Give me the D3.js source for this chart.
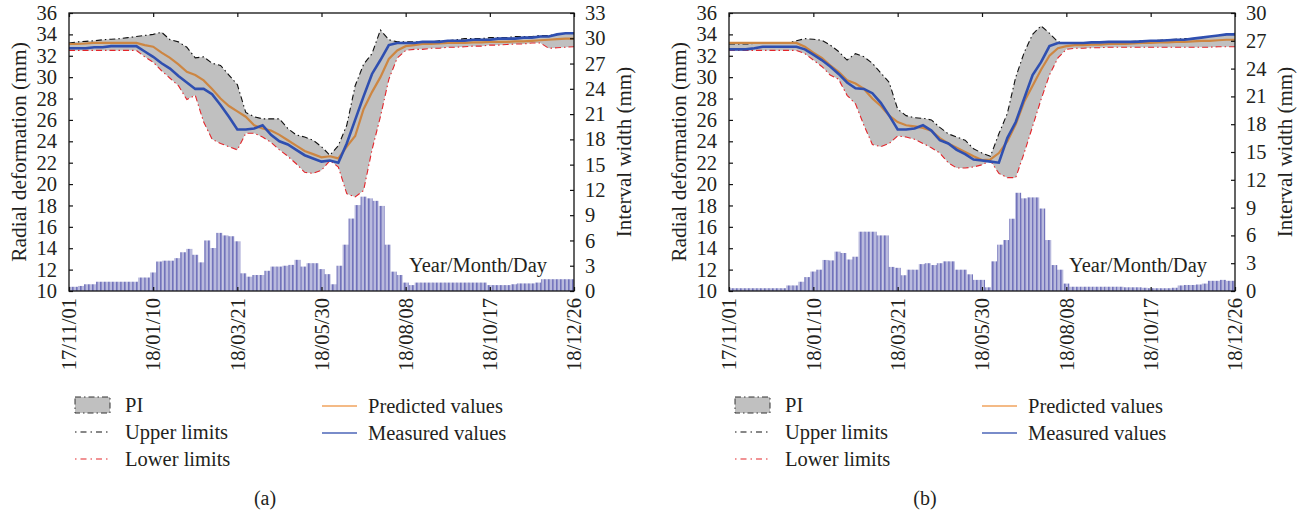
<!DOCTYPE html>
<html>
<head>
<meta charset="utf-8">
<script src="https://cdn.jsdelivr.net/npm/d3@7"></script>
<style>
  body { margin: 0; background: #fff; }
  svg text { font-family: "Liberation Serif", "Times New Roman", serif; fill: #231f20; }
</style>
</head>
<body>
<svg id="chart" width="1300" height="515"></svg>
<script>
// ---- date axis ----
const tickLabels = ["17/11/01", "18/01/10", "18/03/21", "18/05/30", "18/08/08", "18/10/17", "18/12/26"];
const lineStep = 7;   // days between line samples
const barStep = 5;    // days between interval-width bars

// ---- panel (a) ----
const measuredA = [32.7,32.7,32.7,32.8,32.8,32.9,32.9,32.9,32.9,32.4, 31.9,31.3,30.8,30.1,29.5,28.9,28.9,28.4,27.4,26.3,
  25.1,25.1,25.2,25.5,24.6,24.0,23.7,23.2,22.7,22.4, 22.1,22.2,22.0,23.8,26.0,28.2,30.3,31.6,33.0,33.2,
  33.2,33.2,33.3,33.3,33.3,33.4,33.4,33.4,33.5,33.5, 33.5,33.6,33.6,33.6,33.7,33.7,33.8,33.8,34.0,34.1,34.1];
const predictedA = [33.1,33.1,33.15,33.2,33.2,33.2,33.2,33.2,33.2,33.0, 32.85,32.3,31.8,31.2,30.5,30.2,29.7,28.9,28.0,27.3,
  26.8,26.3,25.5,25.2,25.0,24.6,24.1,23.6,23.1,22.8, 22.5,22.6,22.4,23.5,24.5,27.0,28.6,30.0,31.7,32.5,
  32.9,33.0,33.1,33.1,33.15,33.2,33.2,33.2,33.25,33.25, 33.3,33.3,33.3,33.35,33.35,33.4,33.45,33.5,33.55,33.6,33.6];
const upperA = [33.2,33.3,33.35,33.4,33.5,33.55,33.6,33.7,33.8,33.9, 34.0,34.2,33.5,33.3,32.8,31.8,31.9,31.3,31.1,30.2,
  29.3,26.7,26.3,26.1,26.1,26.1,25.2,24.6,24.4,24.1, 23.5,22.7,23.6,25.5,29.2,31.2,32.2,34.4,33.5,33.3,
  33.3,33.3,33.3,33.3,33.4,33.4,33.5,33.6,33.6,33.6, 33.7,33.7,33.7,33.8,33.8,33.8,33.9,33.9,34.0,34.1,34.1];
const lowerA = [32.5,32.5,32.5,32.5,32.5,32.5,32.5,32.5,32.5,31.9, 31.4,30.6,29.9,29.2,27.9,28.3,25.8,24.2,23.8,23.5,
  23.2,24.75,24.75,24.4,23.9,23.2,22.6,21.9,21.1,21.0, 21.3,22.2,21.6,19.1,18.8,19.4,23.2,26.3,29.8,31.8,
  32.5,32.6,32.6,32.7,32.7,32.8,32.8,32.85,32.9,32.9, 33.0,33.0,33.05,33.1,33.1,33.2,33.2,32.7,32.75,32.8,32.85];
const widthA = [0.5,0.5,0.6,0.8,0.8,1.1,1.1,1.1,1.1,1.1, 1.1,1.1,1.6,1.6,2.2,3.5,3.6,3.6,3.9,4.6,
  5.0,4.3,3.4,6.0,5.1,6.9,6.6,6.5,5.9,2.1, 1.7,1.9,1.9,2.4,2.9,2.9,3.0,3.1,3.7,2.9,
  3.3,3.3,2.6,2.0,0.8,3.0,5.5,8.6,10.2,11.2, 11.0,10.7,10.1,5.5,2.3,1.9,1.0,0.7,1.0,1.0,
  1.0,1.0,1.0,1.0,1.0,1.0,1.0,1.0,1.0,1.0, 0.7,0.7,0.7,0.7,0.8,0.9,0.9,0.9,1.0,1.4,
  1.4,1.4,1.4,1.4,1.4];
const widthTicksA = [0,3,6,9,12,15,18,21,24,27,30,33];

// ---- panel (b) ----
const measuredB = [32.6,32.6,32.6,32.7,32.85,32.85,32.85,32.85,32.85,32.6, 32.1,31.6,31.0,30.3,29.5,28.96,28.9,28.5,27.6,26.4,
  25.1,25.1,25.2,25.5,25.0,24.1,23.8,23.2,22.8,22.3, 22.2,22.1,22.0,24.3,25.8,28.0,30.2,31.4,32.9,33.2,
  33.2,33.2,33.2,33.25,33.25,33.3,33.3,33.3,33.3,33.35, 33.4,33.4,33.45,33.5,33.5,33.6,33.7,33.8,33.9,34.0,34.0];
const predictedB = [33.2,33.2,33.2,33.2,33.2,33.2,33.2,33.2,33.2,32.85, 32.3,31.8,31.1,30.5,29.7,29.4,28.9,28.0,27.3,26.4,
  25.8,25.5,25.4,25.25,25.0,24.3,23.8,23.4,23.0,22.6, 22.25,22.3,22.9,24.0,25.6,27.7,29.2,30.7,32.0,32.7,
  32.9,33.0,33.0,33.05,33.05,33.1,33.1,33.1,33.15,33.2, 33.2,33.25,33.25,33.3,33.3,33.35,33.4,33.4,33.45,33.5,33.5];
const upperB = [33.1,33.1,33.1,33.15,33.15,33.2,33.2,33.2,33.4,33.6, 33.55,33.45,33.0,32.4,31.6,32.2,31.9,31.3,30.4,29.5,
  27.0,26.4,26.2,26.15,26.0,25.3,24.7,24.4,24.1,23.3, 22.9,22.6,24.7,26.6,30.0,32.3,34.0,34.8,34.1,33.3,
  33.2,33.2,33.2,33.25,33.25,33.3,33.3,33.3,33.35,33.4, 33.4,33.45,33.5,33.55,33.6,33.6,33.7,33.8,33.9,34.0,34.1];
const lowerB = [32.5,32.5,32.5,32.5,32.5,32.5,32.5,32.5,32.5,32.2, 31.6,31.0,30.2,29.8,28.3,27.5,25.5,23.7,23.5,23.8,
  24.5,24.4,24.2,23.8,23.4,22.9,22.0,21.5,21.5,21.6, 21.8,22.2,21.0,20.6,20.6,22.9,25.4,27.9,30.2,31.8,
  32.6,32.7,32.7,32.75,32.75,32.8,32.8,32.8,32.8,32.8, 32.8,32.8,32.8,32.8,32.8,32.8,32.8,32.8,32.85,32.85,32.85];
const widthB = [0.3,0.3,0.3,0.3,0.3,0.3,0.3,0.3,0.3,0.3, 0.6,0.6,1.0,1.5,2.1,2.3,3.35,3.3,4.25,4.1,
  3.4,3.7,6.4,6.4,6.4,6.0,6.0,2.6,2.5,1.7, 2.3,2.3,2.9,3.0,2.8,3.0,3.2,3.2,2.3,2.3,
  1.8,1.2,1.2,0.4,3.2,5.0,5.5,7.8,10.6,10.0, 10.1,10.1,8.9,5.5,2.8,2.3,0.8,0.46,0.46,0.46,
  0.46,0.46,0.46,0.46,0.46,0.46,0.4,0.4,0.4,0.35, 0.3,0.3,0.3,0.3,0.35,0.6,0.65,0.65,0.7,0.8,
  1.1,1.1,1.2,1.1,1.1];
const widthTicksB = [0,3,6,9,12,15,18,21,24,27,30];

const deformTicks = [10,12,14,16,18,20,22,24,26,28,30,32,34,36];

const legendLeft = [
  { key: "pi", label: "PI" },
  { key: "upper", label: "Upper limits" },
  { key: "lower", label: "Lower limits" }
];
const legendRight = [
  { key: "pred", label: "Predicted values" },
  { key: "meas", label: "Measured values" }
];

const colors = {
  band: "#c0c0c0", upper: "#111111", lower: "#e3262b",
  pred: "#cd8642", meas: "#2f4fb0", predKey: "#f0a35e", measKey: "#4d66b8",
  barDark: "#7273bb", barLight: "#b9badd"
};

const parseDate = d3.utcParse("%y/%m/%d");
const startDate = parseDate(tickLabels[0]);
const endDate = parseDate(tickLabels[tickLabels.length - 1]);
const dayDate = d => d3.utcDay.offset(startDate, d);

const svg = d3.select("#chart");
const defs = svg.append("defs");
// thin vertical stripes used to fill the interval-width bars
const pat = defs.append("pattern").attr("id", "barStripes")
  .attr("width", 4).attr("height", 10).attr("patternUnits", "userSpaceOnUse");
pat.append("rect").attr("width", 4).attr("height", 10).attr("fill", colors.barLight);
pat.append("rect").attr("width", 1.6).attr("height", 10).attr("fill", colors.barDark);

function drawPanel(cfg) {
  const top = 13, bottom = 291;
  const x = d3.scaleUtc().domain([startDate, endDate]).range([cfg.left, cfg.right]);
  const yL = d3.scaleLinear().domain([10, 36]).range([bottom, top]);
  const yR = d3.scaleLinear().domain([0, cfg.rMax]).range([bottom, top]);
  const g = svg.append("g");

  const clipId = "clip" + cfg.id;
  defs.append("clipPath").attr("id", clipId).append("rect")
    .attr("x", cfg.left).attr("y", top).attr("width", cfg.right - cfg.left).attr("height", bottom - top);
  const plot = g.append("g").attr("clip-path", `url(#${clipId})`);

  // interval-width bars
  const barW = x(dayDate(barStep)) - x(dayDate(0));
  plot.append("g").selectAll("rect").data(cfg.width).join("rect")
    .attr("x", (v, i) => x(dayDate(i * barStep)) - barW / 2)
    .attr("width", barW)
    .attr("y", v => yR(v))
    .attr("height", v => bottom - yR(v))
    .attr("fill", "url(#barStripes)");

  const pts = cfg.upper.map((u, i) => ({ d: dayDate(i * lineStep), u, l: cfg.lower[i], p: cfg.pred[i], m: cfg.meas[i] }));

  // prediction interval band
  plot.append("path").datum(pts)
    .attr("d", d3.area().x(d => x(d.d)).y0(d => yL(d.l)).y1(d => yL(d.u)))
    .attr("fill", colors.band);

  const line = acc => d3.line().x(d => x(d.d)).y(d => yL(acc(d)));
  plot.append("path").datum(pts).attr("d", line(d => d.u))
    .attr("fill", "none").attr("stroke", colors.upper).attr("stroke-width", 1.1)
    .attr("stroke-dasharray", "6,3,1.5,3");
  plot.append("path").datum(pts).attr("d", line(d => d.l))
    .attr("fill", "none").attr("stroke", colors.lower).attr("stroke-width", 1.1)
    .attr("stroke-dasharray", "6,3,1.5,3");
  plot.append("path").datum(pts).attr("d", line(d => d.p))
    .attr("fill", "none").attr("stroke", colors.pred).attr("stroke-width", 2.2);
  plot.append("path").datum(pts).attr("d", line(d => d.m))
    .attr("fill", "none").attr("stroke", colors.meas).attr("stroke-width", 2.6);

  // frame
  g.append("rect").attr("x", cfg.left).attr("y", top)
    .attr("width", cfg.right - cfg.left).attr("height", bottom - top)
    .attr("fill", "none").attr("stroke", "#111").attr("stroke-width", 1.3);

  const tickDates = tickLabels.map(parseDate);
  const fmt = d3.utcFormat("%y/%m/%d");

  // left axis
  const axL = g.append("g").attr("transform", `translate(${cfg.left},0)`)
    .call(d3.axisLeft(yL).tickValues(deformTicks).tickSize(-4).tickPadding(12));
  // right axis
  const axR = g.append("g").attr("transform", `translate(${cfg.right},0)`)
    .call(d3.axisRight(yR).tickValues(cfg.rTicks).tickSize(-4).tickPadding(11));
  // bottom axis
  const axB = g.append("g").attr("transform", `translate(0,${bottom})`)
    .call(d3.axisBottom(x).tickValues(tickDates).tickFormat(fmt).tickSize(-4));
  axB.selectAll("text")
    .attr("transform", "rotate(-90)")
    .attr("text-anchor", "end")
    .attr("x", -7).attr("y", 0).attr("dy", "0.33em");
  // top inner ticks
  const axT = g.append("g").attr("transform", `translate(0,${top})`)
    .call(d3.axisTop(x).tickValues(tickDates).tickFormat("").tickSize(-4));

  [axL, axR, axB, axT].forEach(a => {
    a.select(".domain").remove();
    a.selectAll("line").attr("stroke", "#111").attr("stroke-width", 1.2);
    a.selectAll("text").attr("font-size", 20.5).attr("fill", "#231f20")
      .attr("font-family", '"Liberation Serif", serif');
  });

  // axis titles
  g.append("text").attr("transform", `translate(${cfg.left - 51},${(top + bottom) / 2}) rotate(-90)`)
    .attr("text-anchor", "middle").attr("dy", "0.35em").attr("font-size", 21.5)
    .text("Radial deformation (mm)");
  g.append("text").attr("transform", `translate(${cfg.right + 50},${(top + bottom) / 2}) rotate(-90)`)
    .attr("text-anchor", "middle").attr("dy", "0.35em").attr("font-size", 21)
    .text("Interval width (mm)");
  g.append("text").attr("x", cfg.left + 340).attr("y", 272).attr("font-size", 20.5)
    .text("Year/Month/Day");

  // legend
  const lg = g.append("g").attr("transform", `translate(${cfg.left + 6},0)`);
  const rowY = [405, 432, 459];
  legendLeft.forEach((item, i) => {
    const y = rowY[i];
    if (item.key === "pi") {
      lg.append("rect").attr("x", 0).attr("y", y - 8).attr("width", 35).attr("height", 16)
        .attr("fill", colors.band).attr("stroke", "#333").attr("stroke-width", 1)
        .attr("stroke-dasharray", "6,3,1.5,3");
    } else {
      lg.append("line").attr("x1", 0).attr("x2", 35).attr("y1", y).attr("y2", y)
        .attr("stroke", item.key === "upper" ? colors.upper : colors.lower)
        .attr("stroke-width", 1.1).attr("stroke-dasharray", "1.5,4,6,4");
    }
    lg.append("text").attr("x", 50).attr("y", y).attr("dy", "0.35em").attr("font-size", 20.5).text(item.label);
  });
  legendRight.forEach((item, i) => {
    const y = rowY[i] + 1;
    lg.append("line").attr("x1", 247).attr("x2", 282).attr("y1", y).attr("y2", y)
      .attr("stroke", item.key === "pred" ? colors.predKey : colors.measKey).attr("stroke-width", 1.6);
    lg.append("text").attr("x", 293).attr("y", y).attr("dy", "0.35em").attr("font-size", 20.5).text(item.label);
  });

  // caption
  g.append("text").attr("x", cfg.captionX).attr("y", 498).attr("dy", "0.35em")
    .attr("text-anchor", "middle").attr("font-size", 20).text(cfg.caption);
}

drawPanel({ id: "a", left: 69, right: 574, rMax: 33, rTicks: widthTicksA,
  meas: measuredA, pred: predictedA, upper: upperA, lower: lowerA, width: widthA,
  caption: "(a)", captionX: 265 });
drawPanel({ id: "b", left: 729, right: 1235, rMax: 30, rTicks: widthTicksB,
  meas: measuredB, pred: predictedB, upper: upperB, lower: lowerB, width: widthB,
  caption: "(b)", captionX: 925 });
</script>
</body>
</html>
